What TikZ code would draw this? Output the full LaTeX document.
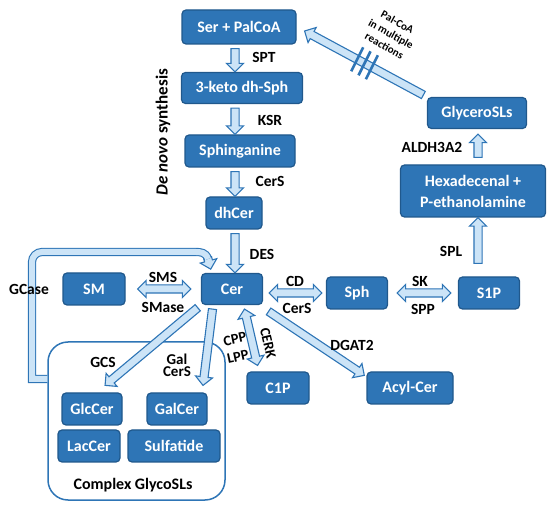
\documentclass[tikz,border=0pt]{standalone}
\usepackage{fontspec}
\setmainfont{Carlito}
\usetikzlibrary{shapes.arrows,calc,positioning}

\definecolor{boxblue}{RGB}{46,117,182}
\definecolor{boxedge}{RGB}{32,88,140}
\definecolor{shaftfill}{RGB}{204,228,247}
\definecolor{shaftedge}{RGB}{46,117,182}

% hollow block arrow from #2 to #3, drawn as a rotated arrow shape
\newcommand{\fatlink}[3][fatarrow]{%
  \path let \p1=(#2), \p2=(#3),
    \n1={atan2(\y2-\y1,\x2-\x1)}, \n2={veclen(\x2-\x1,\y2-\y1)-4} in
    node[#1, rotate=\n1, minimum height=\n2] at ({(\x1+\x2)/2},{(\y1+\y2)/2}) {};}

\begin{document}
\begin{tikzpicture}[
    x=1pt, y=-1pt,
    species/.style={rectangle, rounded corners=4pt, draw=boxedge, line width=1.2pt, fill=boxblue, text=white, font=\fontsize{16}{21}\selectfont\bfseries, minimum height=32pt, inner sep=3pt},
    enzyme/.style={font=\fontsize{15.5}{17}\selectfont\bfseries, inner sep=1pt},
    fatarrow/.style={single arrow, draw=shaftedge, fill=shaftfill, line width=1.1pt, inner sep=0pt, text height=7pt, text depth=0pt, single arrow head extend=4.5pt, single arrow head indent=0pt},
    fatboth/.style={double arrow, draw=shaftedge, fill=shaftfill, line width=1.1pt, inner sep=0pt, text height=7pt, text depth=0pt, double arrow head extend=4.5pt, double arrow head indent=0pt},
    fatline/.style={draw=shaftedge, line width=1.1pt, double=shaftfill, double distance=6pt},
    hatch/.style={draw=shaftedge, line width=2.6pt}
]
\useasboundingbox (0,0) rectangle (550,508);

% De novo branch
\node[species, minimum width=114pt, minimum height=34pt] (serpal) at (239,27) {Ser + PalCoA};
\node[species, minimum width=121pt, minimum height=31pt] (keto) at (242,88) {3-keto dh-Sph};
\node[species, minimum width=110pt] (sphinga) at (240,151) {Sphinganine};
\node[species, minimum width=56pt] (dhcer) at (234,213) {dhCer};
\node[rotate=90, font=\fontsize{17}{19}\selectfont\bfseries] (denovo) at (163,132) {\textit{De novo} synthesis};

% central row
\node[species, minimum width=61pt, minimum height=31pt] (cer) at (232,289) {Cer};
\node[species, minimum width=62pt] (sm) at (94,289) {SM};
\node[species, minimum width=61pt] (sph) at (357,293) {Sph};
\node[species, minimum width=61pt] (s1p) at (489,293) {S1P};

% degradation branch
\node[species, minimum width=145pt, minimum height=52pt, align=center] (hexa) at (473,191) {Hexadecenal +\\P-ethanolamine};
\node[species, minimum width=99pt, minimum height=31pt] (glycero) at (477,113) {GlyceroSLs};

% lower products
\node[species, minimum width=62pt] (c1p) at (278,388) {C1P};
\node[species, minimum width=86pt] (acyl) at (410,388) {Acyl-Cer};

% complex glycosphingolipids
\node[draw=boxblue, line width=1.5pt, rounded corners=20pt, minimum width=177pt, minimum height=158pt] (glycobox) at (136.5,421) {};
\node[species, minimum width=60pt] (glc) at (92,409) {GlcCer};
\node[species, minimum width=60pt] (gal) at (177,409) {GalCer};
\node[species, minimum width=62pt] (lac) at (89,446) {LacCer};
\node[species, minimum width=92pt] (sulf) at (174,446) {Sulfatide};
\node[font=\fontsize{16}{18}\selectfont\bfseries] (complexlbl) at (133,485) {Complex GlycoSLs};

% helper columns
\coordinate (spine) at (235,0);
\coordinate (splx) at (478,0);
\coordinate (palend) at ($(serpal.east)+(8,4)$);

% de novo arrows
\fatlink{serpal.south -| spine}{keto.north -| spine}
\fatlink{keto.south -| spine}{sphinga.north -| spine}
\fatlink{sphinga.south -| spine}{dhcer.north -| spine}
\fatlink{dhcer.south -| spine}{cer.north -| spine}

% reversible steps around Cer and Sph
\fatlink[fatboth]{$(sm.east)+(10,0)$}{$(cer.west)+(-8,0)$}
\fatlink[fatboth]{$(cer.east |- sph.west)+(4,0)$}{$(sph.west)+(-2,0)$}
\fatlink[fatboth]{$(sph.east)+(7,0)$}{$(s1p.west)+(-5,0)$}
\fatlink[fatboth]{$(cer.south)+(12,2)$}{$(c1p.north)+(-20,-4)$}

% S1P breakdown and recycling of Pal-CoA
\fatlink{$(s1p.north -| splx)+(0,-9)$}{hexa.south -| splx}
\fatlink{$(hexa.north -| splx)+(0,-3)$}{$(glycero.south -| splx)+(0,5)$}
\fatlink{glycero.north west}{palend}
\foreach \t in {0.45,0.51,0.57}
  \draw[hatch] ($(glycero.north west)!\t!(palend)$) +(6,-12) -- +(-6,12);
\node[rotate=-29, align=center, font=\fontsize{11}{13.5}\selectfont\bfseries] (palnote) at (391,34) {Pal-CoA\\in multiple\\reactions};

% Cer to other products
\fatlink{cer.south west}{$(glc.north)+(13,-7)$}
\fatlink{$(cer.south)+(-19,0)$}{$(gal.north)+(26,-7)$}
\fatlink{$(cer.south east)+(2,4)$}{$(acyl.north west)+(-2,4)$}

% GCase loop back to Cer
\coordinate (loopstart) at ($(glycobox.west)+(0,-42)$);
\node[fatarrow, minimum height=12pt, anchor=tip, rotate=-75] (gcasehead) at ($(cer.north west)+(10,-3)$) {};
\draw[fatline] (loopstart) -- (32,379) [rounded corners=10pt] -- (32,252) -- (186,252) [sharp corners]
  .. controls (200,252) and ($(gcasehead.tail)!-5pt!(gcasehead.tip)$) .. ($(gcasehead.tail)!2pt!(gcasehead.tip)$);

% enzyme labels
\node[enzyme] (spt) at (264,57) {SPT};
\node[enzyme] (ksr) at (270,120) {KSR};
\node[enzyme] (cers1) at (270,181) {CerS};
\node[enzyme] (des) at (262,254) {DES};
\node[enzyme] (sms) at (163,277) {SMS};
\node[enzyme] (smase) at (163,307) {SMase};
\node[enzyme] (gcase) at (29,289) {GCase};
\node[enzyme] (cd) at (295,281) {CD};
\node[enzyme] (cers2) at (297,308) {CerS};
\node[enzyme] (sk) at (420,281) {SK};
\node[enzyme] (spp) at (423,309) {SPP};
\node[enzyme] (spl) at (451,251) {SPL};
\node[enzyme] (aldh) at (432,147) {ALDH3A2};
\node[enzyme] (dgat) at (352,345) {DGAT2};
\node[enzyme] (gcs) at (103,362) {GCS};
\node[enzyme, align=center, font=\fontsize{15}{12}\selectfont\bfseries] (galcers) at (177,365) {Gal\\CerS};
\node[enzyme, rotate=12, font=\fontsize{14.5}{16}\selectfont\bfseries] (cpp) at (235,339) {CPP};
\node[enzyme, rotate=12, font=\fontsize{14.5}{16}\selectfont\bfseries] (lpp) at (238,357) {LPP};
\node[enzyme, rotate=-77, font=\fontsize{14.5}{16}\selectfont\bfseries] (cerk) at (268,343) {CERK};

\end{tikzpicture}
\end{document}
